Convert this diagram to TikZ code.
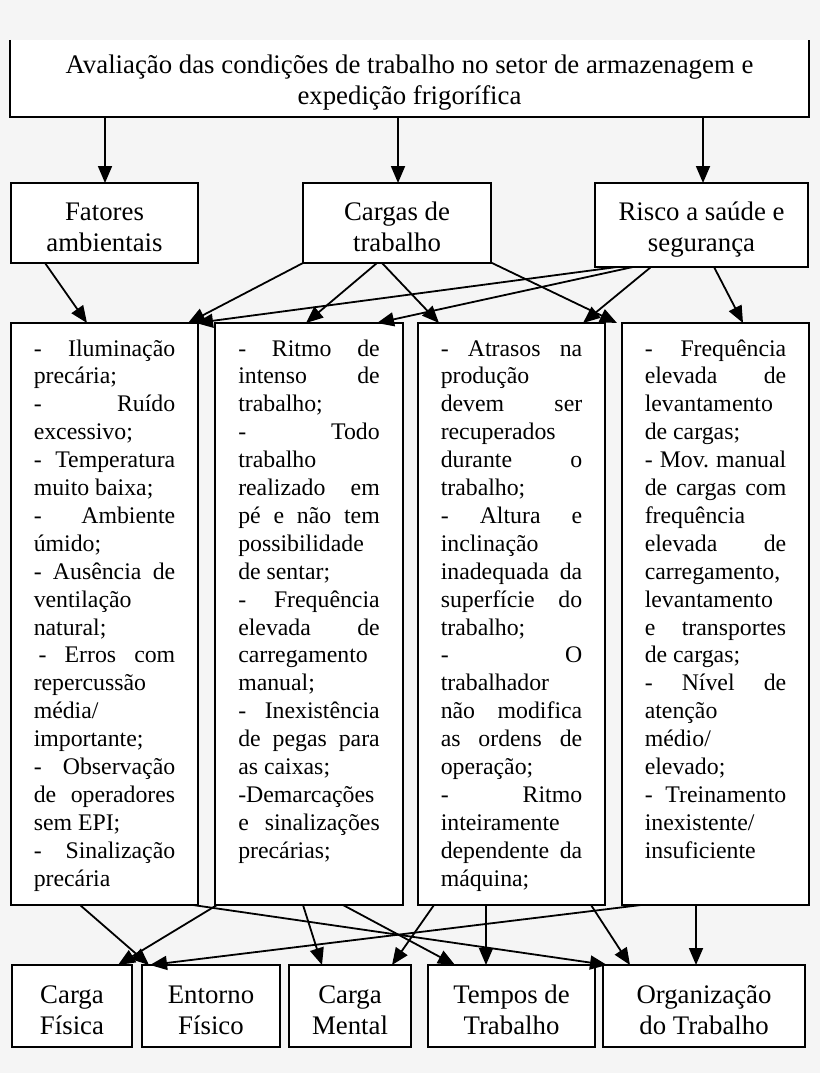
\documentclass[tikz,border=0pt]{standalone}
\usepackage{fontspec}
\setmainfont{Liberation Serif}
\usetikzlibrary{arrows.meta,shadows}
\definecolor{bg}{RGB}{245,245,245}
\newcommand\hdtext[2]{\raisebox{-#1}[\height][\depth]{\begin{tabular}{@{}c@{}}#2\end{tabular}}}
\begin{document}
\begin{tikzpicture}[x=1pt,y=1pt,
  boxbase/.style={fill=white, line width=1.8pt, inner sep=0pt, outer sep=0pt,
     drop shadow={shadow xshift=1.2pt,shadow yshift=-1.2pt,fill=black,opacity=1}},
  hdr/.style={boxbase, draw, font=\fontsize{26.8pt}{31pt}\selectfont},
  titlebox/.style={boxbase, font=\fontsize{26.8pt}{31pt}\selectfont},
  bodybox/.style={boxbase, draw, minimum width=187pt, minimum height=582pt, font=\fontsize{23.8pt}{27.9pt}\selectfont},
  arr/.style={line width=1.8pt, -{Triangle[length=17pt,width=14pt]}},
]
\useasboundingbox[fill=bg] (0,0) rectangle (820,-1073);

% title
\node[titlebox, minimum width=799pt, minimum height=77pt] (title) at (409.5,-78.5)
  {\hdtext{4.5pt}{Avaliação das condições de trabalho no setor de armazenagem e\\expedição frigorífica}};
\draw[line width=1.8pt] (title.north west) -- (title.south west) -- (title.south east) -- (title.north east);

% second row
\node[hdr, minimum width=187pt, minimum height=80pt] (fat) at (104.5,-223) {\hdtext{6.8pt}{Fatores\\ambientais}};
\node[hdr, minimum width=188pt, minimum height=80pt] (carg) at (397,-223) {\hdtext{6.8pt}{Cargas de\\trabalho}};
\node[hdr, minimum width=213pt, minimum height=84pt] (risco) at (701.5,-225) {\hdtext{4.8pt}{Risco a saúde e\\segurança}};

% third row
\node[bodybox] (b1) at (104.5,-614) {\parbox[c][555pt][t]{141.5pt}{\strut
-\hfill Iluminação\\
precária;\\
-\hfill Ruído\\
excessivo;\\
-\hfill Temperatura\\
muito baixa;\\
-\hfill Ambiente\\
úmido;\\
-\hfill Ausência\hfill de\\
ventilação\\
natural;\\
\hspace*{5pt}-\hfill Erros\hfill com\\
repercussão\\
média/\\
importante;\\
-\hfill Observação\\
de\hfill operadores\\
sem EPI;\\
-\hfill Sinalização\\
precária}};

\node[bodybox, minimum width=188pt] (b2) at (309,-614) {\parbox[c][555pt][t]{141.5pt}{\strut
-\hfill Ritmo\hfill de\\
intenso\hfill de\\
trabalho;\\
-\hfill Todo\\
trabalho\\
realizado\hfill em\\
pé\hfill e\hfill não\hfill tem\\
possibilidade\\
de sentar;\\
-\hfill Frequência\\
elevada\hfill de\\
carregamento\\
manual;\\
-\hfill Inexistência\\
de\hfill pegas\hfill para\\
as caixas;\\
-Demarcações\\
e\hfill sinalizações\\
precárias;}};

\node[bodybox] (b3) at (511.5,-614) {\parbox[c][555pt][t]{141.5pt}{\strut
-\hfill Atrasos\hfill na\\
produção\\
devem\hfill ser\\
recuperados\\
durante\hfill o\\
trabalho;\\
-\hfill Altura\hfill e\\
inclinação\\
inadequada\hfill da\\
superfície\hfill do\\
trabalho;\\
-\hfill O\\
trabalhador\\
não\hfill modifica\\
as\hfill ordens\hfill de\\
operação;\\
-\hfill Ritmo\\
inteiramente\\
dependente\hfill da\\
máquina;}};

\node[bodybox] (b4) at (715.5,-614) {\parbox[c][555pt][t]{141.5pt}{\strut
-\hfill Frequência\\
elevada\hfill de\\
levantamento\\
de cargas;\\
-\hfill Mov.\hfill manual\\
de\hfill cargas\hfill com\\
frequência\\
elevada\hfill de\\
carregamento,\\
levantamento\\
e\hfill transportes\\
de cargas;\\
-\hfill Nível\hfill de\\
atenção\\
médio/\\
elevado;\\
-\hfill Treinamento\\
inexistente/\\
insuficiente}};

% bottom row
\node[hdr, minimum width=120pt, minimum height=82pt] (cf) at (72,-1006) {\hdtext{6.8pt}{Carga\\Física}};
\node[hdr, minimum width=138pt, minimum height=82pt] (ef) at (211,-1006) {\hdtext{6.8pt}{Entorno\\Físico}};
\node[hdr, minimum width=122pt, minimum height=82pt] (cm) at (350,-1006) {\hdtext{6.8pt}{Carga\\Mental}};
\node[hdr, minimum width=167pt, minimum height=82pt] (tt) at (511.5,-1006) {\hdtext{6.8pt}{Tempos de\\Trabalho}};
\node[hdr, minimum width=202pt, minimum height=82pt] (ot) at (704,-1006) {\hdtext{6.8pt}{Organização\\do Trabalho}};

% title -> second row
\draw[arr] ([xshift=95pt]title.south west) -- ([xshift=94pt]fat.north west);
\draw[arr] ([xshift=388pt]title.south west) -- ([xshift=95pt]carg.north west);
\draw[arr] ([xshift=693pt]title.south west) -- ([xshift=108pt]risco.north west);

% second -> third
\draw[arr] ([xshift=34pt]fat.south west) -- ([xshift=76pt]b1.north west);
\draw[arr] ([xshift=0pt]carg.south west) -- ([xshift=177pt]b1.north west);
\draw[arr] ([xshift=74pt]carg.south west) -- ([xshift=91pt]b2.north west);
\draw[arr] ([xshift=79pt]carg.south west) -- ([xshift=21pt]b3.north west);
\draw[arr] ([xshift=1pt]carg.south east) -- ([xshift=-5pt]b4.north west);
\draw[arr] ([xshift=22pt]risco.south west) -- ([xshift=-2pt]b1.north east);
\draw[arr] ([xshift=38pt]risco.south west) -- ([xshift=162pt]b2.north west);
\draw[arr] ([xshift=56pt]risco.south west) -- ([xshift=165pt]b3.north west);
\draw[arr] ([xshift=119pt]risco.south west) -- ([xshift=121pt]b4.north west);

% third -> bottom
\draw[arr] ([xshift=69pt]b1.south west) -- ([xshift=7pt]ef.north west);
\draw[arr] ([xshift=182pt]b1.south west) -- ([xshift=4pt]ot.north west);
\draw[arr] ([xshift=2pt]b2.south west) -- ([xshift=106pt]cf.north west);
\draw[arr] ([xshift=88pt]b2.south west) -- ([xshift=33pt]cm.north west);
\draw[arr] ([xshift=128pt]b2.south west) -- ([xshift=27pt]tt.north west);
\draw[arr] ([xshift=16pt]b3.south west) -- ([xshift=103pt]cm.north west);
\draw[arr] ([xshift=68pt]b3.south west) -- ([xshift=58pt]tt.north west);
\draw[arr] ([xshift=173pt]b3.south west) -- ([xshift=27pt]ot.north west);
\draw[arr] ([xshift=19pt]b4.south west) -- ([xshift=8pt]ef.north west);
\draw[arr] ([xshift=74pt]b4.south west) -- ([xshift=93pt]ot.north west);
\end{tikzpicture}
\end{document}
